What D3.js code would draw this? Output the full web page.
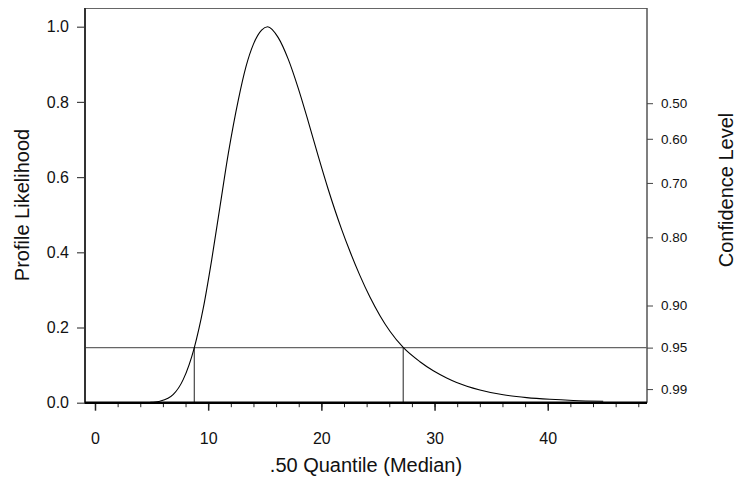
<!DOCTYPE html>
<html>
<head>
<meta charset="utf-8">
<script src="https://cdn.jsdelivr.net/npm/d3@7"></script>
<style>
  html, body { margin: 0; padding: 0; background: #fff; }
  svg { display: block; font-family: "Liberation Sans", Arial, sans-serif; }
</style>
</head>
<body>
<svg id="chart" width="738" height="481"></svg>
<script>
// ---- data ----
const medianX = [4.5, 5.0, 5.74, 6.92, 7.80, 8.77, 9.57, 10.31, 11.04, 11.78, 12.66, 13.34, 13.99, 14.72, 15.25,
  16.19, 17.08, 17.96, 18.85, 19.73, 20.61, 21.79, 22.53, 23.41, 24.29, 25.18, 26.06, 27.23, 28.71, 29.89,
  31.07, 31.95, 34.01, 36.07, 38.14, 40.19, 42.25, 44.9];
const likelihood = [0.0, 0.001, 0.004, 0.022, 0.062, 0.146, 0.252, 0.380, 0.521, 0.663, 0.805, 0.894, 0.953, 0.991, 1.0,
  0.971, 0.913, 0.836, 0.747, 0.655, 0.567, 0.461, 0.402, 0.338, 0.281, 0.2315, 0.190, 0.147, 0.109, 0.085,
  0.066, 0.054, 0.034, 0.021, 0.0135, 0.009, 0.006, 0.004];
const xMajorTicks = [0, 10, 20, 30, 40];
const xMinorTicks = [0, 2, 4, 6, 8, 10, 12, 14, 16, 18, 20, 22, 24, 26, 28, 30, 32, 34, 36, 38, 40, 42, 44, 46, 48];
const yTicks = [0.0, 0.2, 0.4, 0.6, 0.8, 1.0];
const confLabels = ["0.50", "0.60", "0.70", "0.80", "0.90", "0.95", "0.99"];
const confLik = [0.7965, 0.7019, 0.5845, 0.4399, 0.2585, 0.1465, 0.0362];
const cutoff = 0.1465;
const ciBounds = [8.77, 27.23];

(function () {
// ---- layout ----
const svg = d3.select("#chart");
const pl = 85, pr = 647, pt = 8, pb = 402.7;
const x = d3.scaleLinear().domain([-0.883, 48.77]).range([pl, pr]);
const y = d3.scaleLinear().domain([0, 1]).range([pb, 26.7]);
const FONT = "Liberation Sans, Arial, sans-serif";

// frame: top and right lines
svg.append("line").attr("x1", pl).attr("x2", pr).attr("y1", pt + 0.5).attr("y2", pt + 0.5)
  .attr("stroke", "#666").attr("stroke-width", 1.2);
svg.append("line").attr("x1", pr).attr("x2", pr).attr("y1", pt).attr("y2", pb)
  .attr("stroke", "#555").attr("stroke-width", 1.5);

// cutoff line
svg.append("line").attr("x1", pl).attr("x2", pr).attr("y1", y(cutoff)).attr("y2", y(cutoff))
  .attr("stroke", "#666").attr("stroke-width", 1.2);

// CI bound verticals
svg.selectAll(".ci").data(ciBounds).enter().append("line")
  .attr("x1", d => x(d)).attr("x2", d => x(d))
  .attr("y1", y(cutoff)).attr("y2", pb)
  .attr("stroke", "#222").attr("stroke-width", 1);

// curve
const pts = medianX.map((v, i) => [v, likelihood[i]]);
svg.append("path").datum(pts)
  .attr("d", d3.line().x(d => x(d[0])).y(d => y(d[1])).curve(d3.curveMonotoneX))
  .attr("fill", "none").attr("stroke", "#000").attr("stroke-width", 1.1);

// left axis
const yAxis = svg.append("g").attr("transform", `translate(${pl},0)`)
  .call(d3.axisLeft(y).tickValues(yTicks).tickFormat(d3.format(".1f")).tickSize(8).tickPadding(8));
yAxis.select(".domain").remove();
yAxis.selectAll(".tick line").attr("stroke", "#444").attr("stroke-width", 1.2);
yAxis.selectAll("text").attr("font-size", 16).attr("fill", "#111").attr("font-family", FONT);
svg.append("line").attr("x1", pl).attr("x2", pl).attr("y1", pt).attr("y2", pb + 1)
  .attr("stroke", "#333").attr("stroke-width", 2);

// bottom axis: minor ticks
const xMinor = svg.append("g").attr("transform", `translate(0,${pb})`)
  .call(d3.axisBottom(x).tickValues(xMinorTicks).tickFormat("").tickSize(4.5));
xMinor.select(".domain").remove();
xMinor.selectAll(".tick line").attr("stroke", "#222").attr("stroke-width", 1);
const xMajor = svg.append("g").attr("transform", `translate(0,${pb})`)
  .call(d3.axisBottom(x).tickValues(xMajorTicks).tickFormat(d3.format("d")).tickSize(8).tickPadding(22));
xMajor.select(".domain").remove();
xMajor.selectAll(".tick line").attr("stroke", "#222").attr("stroke-width", 1.5);
xMajor.selectAll("text").attr("font-size", 16).attr("fill", "#111").attr("font-family", FONT);
svg.append("line").attr("x1", pl).attr("x2", pr).attr("y1", pb).attr("y2", pb)
  .attr("stroke", "#000").attr("stroke-width", 2.6);

// right confidence axis
const yc = d3.scaleOrdinal().domain(confLabels).range(confLik.map(v => y(v)));
const rAxis = svg.append("g").attr("transform", `translate(${pr},0)`)
  .call(d3.axisRight(yc).tickSize(6).tickPadding(8));
rAxis.select(".domain").remove();
rAxis.selectAll(".tick line").attr("stroke", "#444").attr("stroke-width", 1);
rAxis.selectAll("text").attr("font-size", 13.5).attr("fill", "#111").attr("font-family", FONT);

// titles
svg.append("text").attr("x", 366).attr("y", 472).attr("text-anchor", "middle")
  .attr("font-size", 20).attr("fill", "#111").text(".50 Quantile (Median)");
svg.append("text").attr("transform", "translate(29,205) rotate(-90)").attr("text-anchor", "middle")
  .attr("font-size", 20).attr("fill", "#111").text("Profile Likelihood");
svg.append("text").attr("transform", "translate(733,190) rotate(-90)").attr("text-anchor", "middle")
  .attr("font-size", 20).attr("fill", "#111").text("Confidence Level");
})();
</script>
</body>
</html>
